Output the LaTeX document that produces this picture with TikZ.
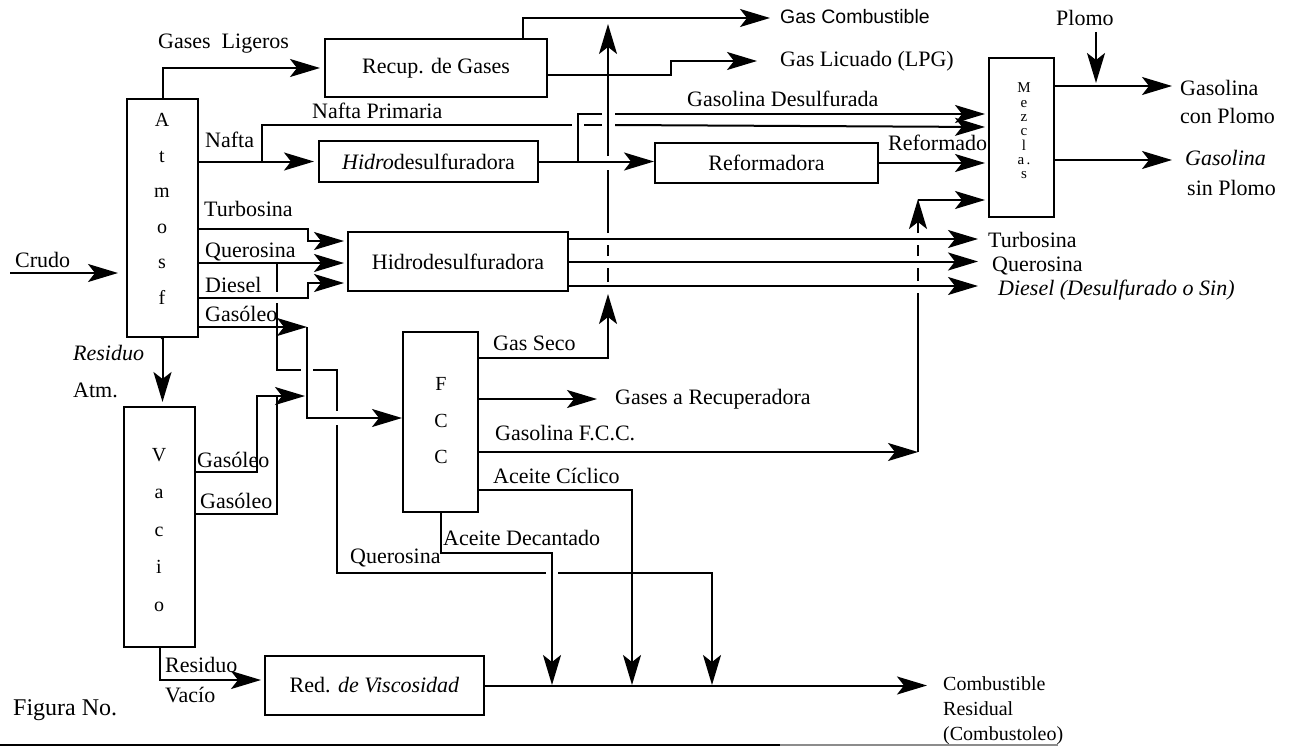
\documentclass[tikz,border=0pt]{standalone}
\usepackage{fontspec}
\setmainfont{Liberation Serif}
\setsansfont{Liberation Sans}
\usetikzlibrary{arrows.meta}
\begin{document}
\begin{tikzpicture}[x=1pt,y=-1pt,
  every node/.style={font=\fontsize{22}{24}\selectfont},
  ln/.style={line width=2pt},
  arr/.style={ln, -{Stealth[length=30pt,width=18pt,inset=7pt]}},
  box/.style={draw, line width=2pt, inner sep=0pt},
  lbl/.style={inner sep=0pt, anchor=west, text height=15pt, text depth=4.5pt},
  vtext/.style={inner sep=0pt, align=center},
]
\useasboundingbox (0,0) rectangle (1290,749);

% ---- boxes ----
\node[box, minimum width=71pt, minimum height=238pt] (atm) at (162.5,218) {};
\node[vtext, font=\fontsize{20}{35.5}\selectfont] (atmt) at (162,227) {A\\t\\m\\o\\s\\f\\.};
\node[box, minimum width=71pt, minimum height=240pt] (vac) at (159.5,527) {};
\node[vtext, font=\fontsize{20}{37.5}\selectfont] (vact) at (159,530) {V\\a\\c\\i\\o};
\node[box, minimum width=222pt, minimum height=58pt] (recup) at (436,68) {Recup. de Gases};
\node[box, minimum width=219pt, minimum height=41pt] (hdsA) at (428.5,161.5) {\textit{Hidro}desulfuradora};
\node[box, minimum width=220pt, minimum height=59pt] (hdsB) at (458,261.5) {Hidrodesulfuradora};
\node[box, minimum width=223pt, minimum height=40pt] (ref) at (766.5,163) {Reformadora};
\node[box, minimum width=65pt, minimum height=159pt] (mez) at (1021.5,137.5) {};
\node[vtext, font=\fontsize{15}{14.3}\selectfont] (mezt) at (1024,131) {M\\e\\z\\c\\l\\a\,.\\s};
\node[box, minimum width=75pt, minimum height=180pt] (fcc) at (440.5,422) {};
\node[vtext, font=\fontsize{20}{36.5}\selectfont] (fcct) at (441,421) {F\\C\\C};
\node[box, minimum width=219pt, minimum height=59pt] (red) at (374.5,685.5) {Red. \textit{de Viscosidad}};

% ---- labels ----
\node[lbl] (lGL) at (158,43) {Gases\ \ Ligeros};
\node[lbl] (lNafta) at (205,142) {Nafta};
\node[lbl] (lNP) at (312,113) {Nafta Primaria};
\node[lbl] (lTurb) at (204,211) {Turbosina};
\node[lbl] (lQ) at (205,252) {Querosina};
\node[lbl] (lD) at (205,287) {Diesel};
\node[lbl] (lG) at (205,316) {Gasóleo};
\node[lbl] (lCrudo) at (15,262) {Crudo};
\node[lbl] (lRA1) at (73,355) {\textit{Residuo}};
\node[lbl] (lRA2) at (73,392) {Atm.};
\node[lbl] (lGv1) at (197,462) {Gasóleo};
\node[lbl] (lGv2) at (200,503) {Gasóleo};
\node[lbl] (lRV1) at (165,667) {Residuo};
\node[lbl] (lRV2) at (165,697) {Vacío};
\node[lbl, font=\fontsize{24}{26}\selectfont] (lFig) at (13,710) {Figura No.};
\node[lbl, font=\sffamily\fontsize{19.5}{22}\selectfont] (lGC) at (780,18) {Gas Combustible};
\node[lbl] (lGLP) at (780,61) {Gas Licuado (LPG)};
\node[lbl] (lGD) at (687,101) {Gasolina Desulfurada};
\node[lbl] (lRef) at (888,145) {Reformado};
\node[lbl] (lPl) at (1056,20) {Plomo};
\node[lbl] (lGcp1) at (1180,90) {Gasolina};
\node[lbl] (lGcp2) at (1180,118) {con Plomo};
\node[lbl] (lGsp1) at (1185,160) {\textit{Gasolina}};
\node[lbl] (lGsp2) at (1187,190) {sin Plomo};
\node[lbl] (lTo) at (988,242) {Turbosina};
\node[lbl] (lQo) at (992,266) {Querosina};
\node[lbl] (lDo) at (998,290) {\textit{Diesel (Desulfurado o Sin)}};
\node[lbl] (lGS) at (493,345) {Gas Seco};
\node[lbl] (lGR) at (615,399) {Gases a Recuperadora};
\node[lbl] (lGF) at (495,435) {Gasolina F.C.C.};
\node[lbl] (lAC) at (493,478) {Aceite Cíclico};
\node[lbl] (lAD) at (443,540) {Aceite Decantado};
\node[lbl] (lQq) at (350,558) {Querosina};
\node[lbl, font=\fontsize{20}{22}\selectfont] (lCR1) at (943,685) {Combustible};
\node[lbl, font=\fontsize{20}{22}\selectfont] (lCR2) at (943,710) {Residual};
\node[lbl, font=\fontsize{20}{22}\selectfont] (lCR3) at (943,735) {(Combustoleo)};

% ---- free ends ----
\coordinate (crS) at (10,273);
\coordinate (gcE) at (770,18);
\coordinate (glE) at (757,61);
\coordinate (npA) at (262,161.5);
\coordinate (gdA) at (578,161.5);
\coordinate (gcpE) at (1172,86);
\coordinate (gspE) at (1172,160);
\coordinate (plS) at (1096,32);
\coordinate (grE) at (597,399);
\coordinate (crE) at (927,685.5);
\coordinate (ruleA) at (0,745);
\coordinate (ruleB) at (780,745);
\coordinate (ruleC) at (1058,745);

% ---- connectors ----
\draw[arr] (crS) -- ([xshift=-8pt]crS -| atm.west);
\draw[arr] (atm.north) |- ([xshift=-4pt]recup.west);
\draw[arr] ([xshift=87pt]recup.north) |- (gcE);
\draw[arr] ([yshift=-7pt]recup.east) -- ++(123,0) |- (glE);
\draw[arr] (atm.east |- hdsA.west) -- ([xshift=-4pt]hdsA.west);
% Nafta primaria
\draw[ln] (npA) |- (572,125);
\draw[ln] (584,125) -- (602,125);
\draw[arr] (615,125) -- ([xshift=-3pt]mez.west |- 0,127);
% Gasolina desulfurada
\draw[ln] (gdA) |- (602,114);
\draw[arr] (615,114) -- ([xshift=-3pt]mez.west |- 0,114);
\draw[arr] (hdsA.east) -- (hdsA.east -| ref.west);
\draw[arr] (ref.east) -- ([xshift=-3pt]ref.east -| mez.west);
% gas seco riser
\draw[arr] ([yshift=64pt]fcc.east) -| (608,294);
\draw[ln] (608,282) -- (608,268);
\draw[ln] (608,256) -- (608,245);
\draw[ln] (608,233) -- (608,170);
\draw[arr] (608,156) -- (608,24);
% mezclas outputs
\draw[arr] (mez.east |- gcpE) -- (gcpE);
\draw[arr] (plS) -- ([yshift=3pt]plS |- gcpE);
\draw[arr] (mez.east |- gspE) -- (gspE);
% hidro B inputs
\draw[arr] (atm.east |- 0,229) -- (308,229) -- (308,241) -- ([xshift=-3pt]hdsB.west |- 0,241);
\draw[arr] (atm.east |- 0,263) -- ([xshift=-3pt]hdsB.west |- 0,263);
\draw[arr] (atm.east |- 0,298) -- (308,298) -- (308,283) -- ([xshift=-3pt]hdsB.west |- 0,283);
% gasoleo atm
\draw[arr] (atm.east |- 0,327) -- (307,327);
\draw[arr] (307,327) -- (307,418) -- ([yshift=4pt]fcc.west);
% querosina branch
\draw[ln] (277,263) -- (277,292);
\draw[ln] (277,303) -- (277,370) -- (301,370);
\draw[ln] (313,370) -- (337,370) -- (337,411);
\draw[ln] (337,425) -- (337,573) -- (546,573);
\draw[arr] (558,573) -- (712,573) -- (712,685);
% gasoleo vacio
\draw[arr] (vac.east |- 0,472) -- (257,472) -- (257,396) -- (305,396);
\draw[ln] (vac.east |- 0,514) -- (277,514) -- (277,396);
% residuos
\draw[arr] (atm.south) -- ([yshift=4pt]atm.south |- vac.north);
\draw[arr] (vac.south) |- ([xshift=-3pt,yshift=5.5pt]red.west);
% FCC outputs
\draw[arr] (fcc.east |- grE) -- (grE);
\draw[arr] (fcc.east |- 0,452) -- (918,452);
\draw[ln] (918,452) -- (918,293);
\draw[ln] (918,281) -- (918,268);
\draw[ln] (918,256) -- (918,245);
\draw[arr] (918,233) -- (918,199);
\draw[arr] (918,200) -- ([xshift=-3pt]mez.west |- 0,200);
\draw[arr] (fcc.east |- 0,490) -| (632,685);
\draw[arr] (fcc.south) |- (552,553) -- (552,685);
% hidro B outputs
\draw[arr] (hdsB.east |- 0,239) -- (978,239);
\draw[arr] (hdsB.east) -- (978,261.5);
\draw[arr] (hdsB.east |- 0,286) -- (978,286);
% residual
\draw[arr] (red.east) -- (crE);
% bottom rule
\draw[line width=2pt] (ruleA) -- (ruleB);
\draw[line width=2pt, black!45] (ruleB) -- (ruleC);
\end{tikzpicture}
\end{document}
